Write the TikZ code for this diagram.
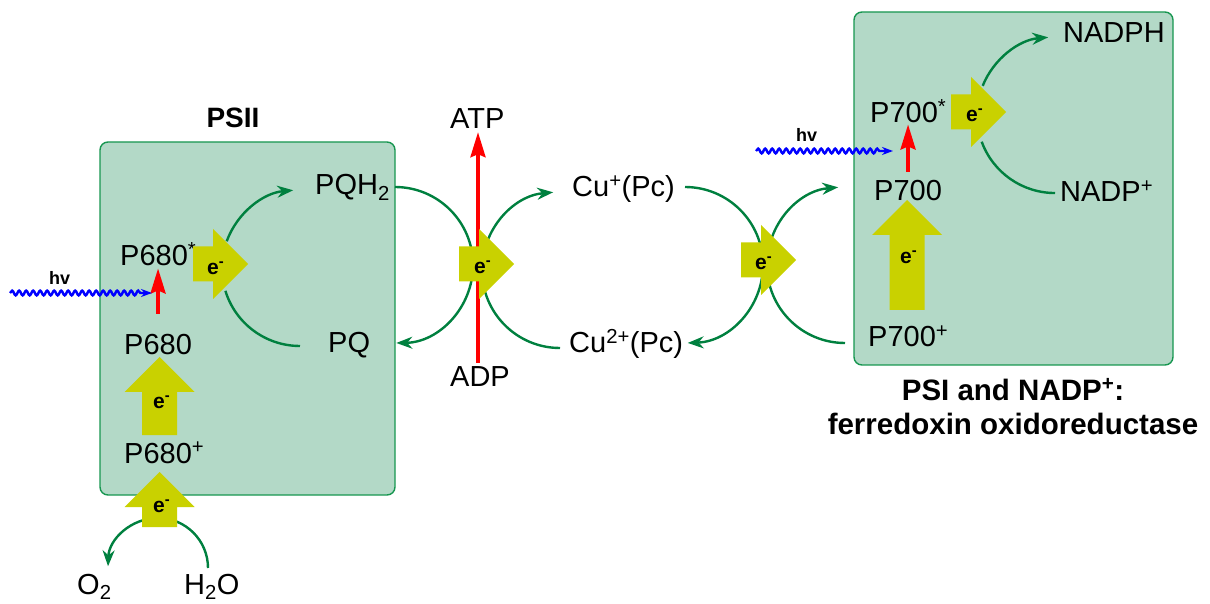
\documentclass[tikz,border=0pt]{standalone}
\usepackage{fontspec}
\setmainfont{Liberation Sans}
\usetikzlibrary{
  arrows.meta,
  decorations.pathmorphing,
  positioning
}
\definecolor{boxfill}{HTML}{B3D9C7}
\definecolor{boxline}{HTML}{179650}
\definecolor{flowgreen}{HTML}{00803F}
\definecolor{eyellow}{HTML}{C9D100}
\definecolor{excitered}{HTML}{FF0000}
\definecolor{photonblue}{HTML}{0000FF}
\tikzset{
  complexbox/.style={
    draw=boxline,
    fill=boxfill,
    line width=1.4pt,
    rounded corners=8pt
  },
  species/.style={
    inner sep=0pt,
    anchor=base west,
    font=\fontsize{29}{34}\selectfont
  },
  cplxtitle/.style={
    inner sep=0pt,
    anchor=base,
    font=\fontsize{28}{34}\selectfont\bfseries
  },
  elabel/.style={
    inner sep=0pt,
    font=\fontsize{21}{24}\selectfont\bfseries
  },
  hvlabel/.style={
    inner sep=0pt,
    anchor=base west,
    font=\fontsize{18}{22}\selectfont\bfseries
  },
  transfer/.style={
    -{Stealth[length=16pt,width=12pt]},
    line width=2.4pt,
    draw=flowgreen
  },
  transferplain/.style={
    line width=2.4pt,
    draw=flowgreen
  },
  excite/.style={
    -{Stealth[length=25pt,width=15pt,inset=3pt]},
    line width=3.5pt,
    draw=excitered
  },
  photon/.style={
    -{Stealth[length=11pt,width=8pt]},
    line width=2.4pt,
    draw=photonblue,
    decorate,
    decoration={snake, amplitude=2.4pt, segment length=7pt, post length=11pt}
  },
  eblock/.style={fill=eyellow}
}

\begin{document}
\begin{tikzpicture}[x=1pt, y=1pt]
  \useasboundingbox (0,0) rectangle (1210,603);

  % complexes
  \draw[complexbox] (100,108) rectangle (395,461);
  \draw[complexbox] (854,238) rectangle (1173,591);
  \node[cplxtitle] (psii) at (233,475) {PSII};
  \node[cplxtitle, font=\fontsize{29.5}{34}\selectfont\bfseries]
    (psiname) at (1013,203) {PSI and NADP\textsuperscript{+}:};
  \node[cplxtitle, font=\fontsize{29.5}{34}\selectfont\bfseries]
    (psifull) at (1013,168) {ferredoxin oxidoreductase};

  % species
  \node[species] (p680s) at (120,337) {P680\textsuperscript{*}};
  \node[species] (p680) at (124,248) {P680};
  \node[species] (p680p) at (124,140) {P680\textsuperscript{+}};
  \node[species] (pqh2) at (315,408) {PQH\textsubscript{2}};
  \node[species] (pq) at (328,250) {PQ};
  \node[species] (o2) at (77,9) {O\textsubscript{2}};
  \node[species] (h2o) at (184,9) {H\textsubscript{2}O};
  \node[species] (atp) at (450,474) {ATP};
  \node[species] (adp) at (450,216) {ADP};
  \node[species] (cup) at (572,406) {Cu\textsuperscript{+}(Pc)};
  \node[species] (cupp) at (569,250) {Cu\textsuperscript{2+}(Pc)};
  \node[species] (p700s) at (870,480) {P700\textsuperscript{*}};
  \node[species] (p700) at (874,402) {P700};
  \node[species] (p700p) at (868,256) {P700\textsuperscript{+}};
  \node[species] (nadph) at (1063,560) {NADPH};
  \node[species] (nadpp) at (1060,401) {NADP\textsuperscript{+}};

  % arc start points
  \coordinate (psiiup) at (226.7,361.7);
  \coordinate (psiilo) at (225.4,312.2);
  \coordinate (pqout) at (395,416);
  \coordinate (pcin) at (560,255);
  \coordinate (pcout) at (685,416);
  \coordinate (psiin) at (845,260);
  \coordinate (psiup) at (982.7,517.2);
  \coordinate (psilo) at (981.7,461.3);
  \coordinate (waterin) at (208,35);

  % electron transfer arcs
  \draw[transfer] (psiiup) arc[start angle=160, end angle=95, radius=78];
  \draw[transferplain] (psiilo) arc[start angle=197, end angle=270, radius=78];
  \draw[transfer] (pqout) arc[start angle=90, end angle=-89, radius=78];
  \draw[transfer] (pcin) arc[start angle=-90, end angle=-265, radius=78];
  \draw[transfer] (pcout) arc[start angle=90, end angle=-88, radius=78];
  \draw[transfer] (psiin) arc[start angle=-90, end angle=-265, radius=78];
  \draw[transfer] (psiup) arc[start angle=158, end angle=95, radius=78];
  \draw[transferplain] (psilo) arc[start angle=200, end angle=270, radius=78];
  \draw[transfer] (waterin) arc[start angle=0, end angle=178, radius=50];

  % excitation and ATP synthesis
  \draw[excite, shorten <=21pt, shorten >=2pt] (p680.north) -- (p680.north |- p680s.south);
  \draw[excite, shorten <=9pt, shorten >=1pt] (p700.north) -- (p700.north |- p700s.south);
  \draw[excite, shorten <=4pt, shorten >=3pt] (adp.north -| 478,0) -- (atp.south -| 478,0);

  % light
  \node[hvlabel] (hvl) at (49,318) {hv};
  \node[hvlabel] (hvr) at (796,461) {hv};
  \coordinate (lightl) at (10,310);
  \coordinate (lightr) at (756,452);
  \draw[photon] (lightl) -- (lightl -| 152,0);
  \draw[photon] (lightr) -- (lightr -| 893,0);

  % electron block arrows
  \foreach \x/\y/\len/\rot in {193/339/20/0, 459/339/20/0, 741/343/20/0,
      951/491/20/0, 907/293/75/90, 159.5/168/43/90, 159.5/76/20/90}{
    \fill[eblock, rotate around={\rot:(\x,\y)}]
      (\x,\y) ++(0,-17.5) -- ++(\len,0) -- ++(0,-17.5) -- ++(35,35)
      -- ++(-35,35) -- ++(0,-17.5) -- ++(-\len,0) -- cycle;
  }
  \foreach \x/\y [count=\i] in {213/335, 480/336, 761/340, 972/488,
      906/346, 159/201, 159/97}{
    \node[elabel] (e\i) at (\x,\y) {e\rlap{\textsuperscript{-}}};
  }
\end{tikzpicture}
\end{document}
